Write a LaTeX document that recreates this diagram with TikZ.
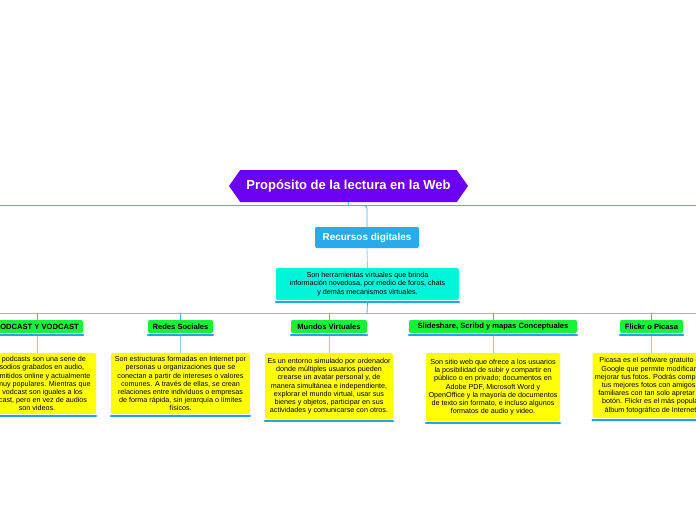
\documentclass[tikz,border=0pt]{standalone}
\usepackage{fontspec}
\setmainfont{Liberation Sans}
\usetikzlibrary{shapes.symbols,calc}
\definecolor{titlepurple}{HTML}{6C00F2}
\definecolor{linkblue}{HTML}{3FB4E8}
\definecolor{topicblue}{HTML}{2AAAE8}
\definecolor{notecyan}{HTML}{00F5DA}
\definecolor{subgreen}{HTML}{19F03A}
\definecolor{noteyellow}{HTML}{FFFF00}
\definecolor{barblue}{HTML}{1BA6EE}
\tikzset{
  link/.style={draw=linkblue, line width=0.8pt},
  titlebox/.style={shape=signal, signal to=west and east, signal pointer angle=110, fill=titlepurple, text=white, font=\bfseries\fontsize{13}{15}\selectfont, minimum width=239pt, minimum height=32pt, inner sep=0pt},
  topicbox/.style={rounded corners=2pt, fill=topicblue, text=white, font=\bfseries\fontsize{10}{12}\selectfont, minimum width=104pt, minimum height=21pt},
  notebox/.style={rounded corners=1.5pt, fill=#1, align=center, font=\fontsize{7.2}{8.2}\selectfont, inner sep=2pt},
  subbox/.style={rounded corners=1.5pt, fill=subgreen, font=\bfseries\fontsize{7.6}{9}\selectfont, minimum height=13pt, inner xsep=3pt, inner ysep=1pt},
  bar/.style={draw=barblue, line width=2pt, line cap=round}
}
\begin{document}
\begin{tikzpicture}[x=1pt, y=-1pt]
\useasboundingbox (0,0) rectangle (696,520);
\clip (0,0) rectangle (696,520);
\fill[white] (0,0) rectangle (696,520);

% central part
\node[titlebox] (title) at (348.5,186) {Propósito de la lectura en la Web};
\node[topicbox] (recursos) at (367,237.5) {Recursos digitales};
\node[notebox=notecyan, minimum width=183pt, minimum height=32pt] (resumen) at (367.5,284)
  {Son herramientas virtuales que brinda\\información novedosa, por medio de foros, chats\\y demás mecanismos virtuales.};
\draw[bar] (resumen.south west) ++(0,2) -- ($(resumen.south east)+(0,2)$);

\coordinate (topline) at (0,205.5);
\draw[link] (topline) -- (696,205.5);
\draw[link] (title.south) -- (title.south |- topline);
\draw[link, rounded corners=3pt] (title.south |- topline) -| (recursos.north);
\draw[link, draw=linkblue!60] (recursos.south) -- (resumen.north);
\coordinate (split) at (367,313.5);
\draw[link, draw=gray!60] (0,313.5) -- (696,313.5);
\draw[link] ($(resumen.south)+(0,3)$) -- (split);

% branches
\foreach \name/\x/\headw/\head/\notew/\noteh/\body in {
  podcast/37/92/{PODCAST Y VODCAST}/118/61/{Los podcasts son una serie de\\episodios grabados en audio,\\transmitidos online y actualmente\\son muy populares. Mientras que\\los vodcast son iguales a los\\podcast, pero en vez de audios\\son videos.},
  redes/180.5/65/{Redes Sociales}/139/61/{Son estructuras formadas en Internet por\\personas u organizaciones que se\\conectan a partir de intereses o valores\\comunes. A través de ellas, se crean\\relaciones entre individuos o empresas\\de forma rápida, sin jerarquía o límites\\físicos.},
  mundos/329/76/{Mundos Virtuales}/128/66/{Es un entorno simulado por ordenador\\donde múltiples usuarios pueden\\crearse un avatar personal y, de\\manera simultánea e independiente,\\explorar el mundo virtual, usar sus\\bienes y objetos, participar en sus\\actividades y comunicarse con otros.},
  slides/493/168/{Slideshare, Scribd y mapas Conceptuales}/134/68/{Son sitio web que ofrece a los usuarios\\la posibilidad de subir y compartir en\\público o en privado; documentos en\\Adobe PDF, Microsoft Word y\\OpenOffice y la mayoría de documentos\\de texto sin formato,  e incluso algunos\\formatos de audio y video.},
  flickr/651.5/63/{Flickr o Picasa}/118/65/{Picasa es el software gratuito de\\Google que permite modificar y\\mejorar tus fotos. Podrás compartir\\tus mejores fotos con amigos y\\familiares con tan solo apretar un\\botón. Flickr es el más popular\\álbum fotográfico de Internet.}} {
  \node[subbox, minimum width=\headw pt] (\name) at (\x,326.5) {\head};
  \draw[bar] ($(\name.south west)+(0,2)$) -- ($(\name.south east)+(0,2)$);
  \node[notebox=noteyellow, minimum width=\notew pt, minimum height=\noteh pt, anchor=north] (\name-note) at (\x,353) {\body};
  \draw[bar] ($(\name-note.south west)+(0,2)$) -- ($(\name-note.south east)+(0,2)$);
  \draw[link] (\x,313.5) -- (\name.north);
  \draw[link, draw=linkblue!60] ($(\name.south)+(0,3)$) -- (\name-note.north);
}
\end{tikzpicture}
\end{document}
